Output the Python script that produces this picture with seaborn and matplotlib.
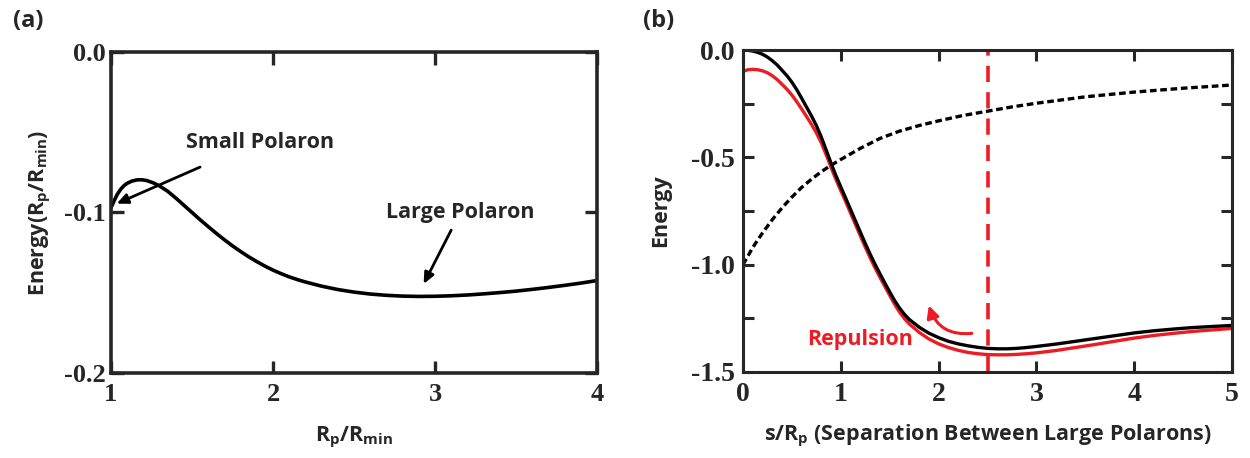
import matplotlib
matplotlib.use("Agg")
import matplotlib.pyplot as plt
import seaborn as sns
import pandas as pd
from matplotlib.ticker import MultipleLocator, FixedLocator

# ---------------- data ----------------
# Panel (a): Energy vs Rp/Rmin
a_x = [1.0, 1.02, 1.04, 1.06, 1.08, 1.10, 1.13, 1.16, 1.19, 1.22, 1.26, 1.30,
       1.35, 1.40, 1.45, 1.50, 1.55, 1.60, 1.65, 1.70, 1.75, 1.80, 1.85, 1.90,
       1.95, 2.00, 2.05, 2.10, 2.15, 2.20, 2.30, 2.40, 2.50, 2.60, 2.70, 2.80,
       2.90, 3.00, 3.10, 3.20, 3.30, 3.40, 3.50, 3.60, 3.70, 3.80, 3.90, 4.00]
a_y = [-0.0970, -0.0925, -0.0885, -0.0855, -0.0833, -0.0818, -0.0804, -0.0797,
       -0.0796, -0.0801, -0.0815, -0.0835, -0.0868, -0.0910, -0.0955, -0.1000,
       -0.1045, -0.1088, -0.1130, -0.1170, -0.1208, -0.1243, -0.1276, -0.1306,
       -0.1334, -0.1359, -0.1381, -0.1401, -0.1418, -0.1433, -0.1459, -0.1480,
       -0.1496, -0.1508, -0.1516, -0.1521, -0.1523, -0.1522, -0.1519, -0.1514,
       -0.1507, -0.1499, -0.1490, -0.1479, -0.1467, -0.1454, -0.1440, -0.1424]

# Panel (b): energy vs separation (solid black and red curves)
b_x = [0.0, 0.05, 0.1, 0.15, 0.2, 0.25, 0.3, 0.35, 0.4, 0.45, 0.5, 0.55, 0.6,
       0.65, 0.7, 0.75, 0.8, 0.85, 0.9, 0.95, 1.0, 1.05, 1.1, 1.15, 1.2, 1.25,
       1.3, 1.35, 1.4, 1.45, 1.5, 1.55, 1.6, 1.65, 1.7, 1.8, 1.9, 2.0, 2.1, 2.2,
       2.3, 2.4, 2.5, 2.6, 2.7, 2.8, 2.9, 3.0, 3.2, 3.4, 3.6, 3.8, 4.0, 4.2,
       4.4, 4.6, 4.8, 5.0]
b_black = [0.0, -0.001, -0.005, -0.011, -0.020, -0.033, -0.050, -0.070, -0.095,
           -0.120, -0.150, -0.185, -0.225, -0.266, -0.307, -0.352, -0.405,
           -0.465, -0.527, -0.585, -0.638, -0.690, -0.743, -0.796, -0.849,
           -0.901, -0.951, -0.998, -1.042, -1.085, -1.127, -1.167, -1.202,
           -1.231, -1.255, -1.291, -1.319, -1.340, -1.357, -1.369, -1.378,
           -1.385, -1.390, -1.392, -1.392, -1.390, -1.386, -1.381, -1.370,
           -1.357, -1.344, -1.331, -1.318, -1.308, -1.300, -1.293, -1.288,
           -1.283]
b_red = [-0.100, -0.092, -0.090, -0.092, -0.097, -0.106, -0.120, -0.138,
         -0.160, -0.183, -0.210, -0.241, -0.275, -0.310, -0.346, -0.386,
         -0.432, -0.487, -0.546, -0.603, -0.655, -0.706, -0.760, -0.813,
         -0.866, -0.918, -0.968, -1.015, -1.059, -1.101, -1.143, -1.184,
         -1.221, -1.251, -1.276, -1.315, -1.346, -1.369, -1.386, -1.399,
         -1.409, -1.415, -1.419, -1.420, -1.420, -1.418, -1.415, -1.411,
         -1.400, -1.386, -1.372, -1.357, -1.342, -1.330, -1.320, -1.311,
         -1.304, -1.297]
# dotted curve
d_x = [0.0, 0.05, 0.1, 0.15, 0.2, 0.3, 0.4, 0.5, 0.6, 0.7, 0.8, 0.9, 1.0,
       1.2, 1.4, 1.6, 1.8, 2.0, 2.25, 2.5, 2.75, 3.0, 3.5, 4.0, 4.5, 5.0]
d_y = [-1.000, -0.960, -0.920, -0.885, -0.852, -0.790, -0.735, -0.685, -0.640,
       -0.602, -0.567, -0.537, -0.510, -0.458, -0.412, -0.378, -0.352, -0.330,
       -0.305, -0.285, -0.265, -0.248, -0.218, -0.196, -0.178, -0.163]
vline_x = 2.5

a_xticks = [1, 2, 3, 4]
a_yticks = [0.0, -0.1, -0.2]
b_xticks = [0, 1, 2, 3, 4, 5]
b_yticks = [0.0, -0.5, -1.0, -1.5]

RED = "#ED1C24"

# ---------------- style ----------------
sns.set_theme(style="ticks")
plt.rcParams["font.family"] = ["Open Sans", "DejaVu Sans"]
plt.rcParams["axes.unicode_minus"] = False
plt.rcParams["mathtext.fontset"] = "custom"
plt.rcParams["mathtext.rm"] = "Open Sans:bold"
plt.rcParams["mathtext.it"] = "Open Sans:bold"
plt.rcParams["mathtext.bf"] = "Open Sans:bold"
plt.rcParams["mathtext.default"] = "rm"

fig = plt.figure(figsize=(12.5, 4.58), dpi=100)
axa = fig.add_axes([0.0888, 0.1856, 0.3888, 0.7009])
axb = fig.add_axes([0.5944, 0.1878, 0.3912, 0.7030])

LABEL_FS = 15.5

# ---------------- panel (a) ----------------
dfa = pd.DataFrame({"x": a_x, "y": a_y})
sns.lineplot(data=dfa, x="x", y="y", ax=axa, color="black", lw=2.6, sort=True)
axa.set_xlim(1, 4)
axa.set_ylim(-0.2, 0.0)
axa.xaxis.set_major_locator(FixedLocator(a_xticks))
axa.yaxis.set_major_locator(FixedLocator(a_yticks))
axa.set_xticklabels([str(v) for v in a_xticks])
axa.set_yticklabels([f"{v:.1f}" for v in a_yticks])
for sp in axa.spines.values():
    sp.set_linewidth(2.6)
    sp.set_visible(True)
axa.tick_params(direction="in", length=9, width=2.4, top=True, right=True,
                pad=7)
axa.tick_params(axis="y", pad=4)
for lab in axa.get_xticklabels() + axa.get_yticklabels():
    lab.set_fontfamily("Liberation Serif")
    lab.set_fontweight("bold")
    lab.set_fontsize(19)
axa.set_xlabel(r"R$_\mathrm{p}$/R$_\mathrm{min}$", fontsize=LABEL_FS,
               fontweight="bold", labelpad=14)
axa.set_ylabel(r"Energy(R$_\mathrm{p}$/R$_\mathrm{min}$)", fontsize=LABEL_FS,
               fontweight="bold", labelpad=8)
arrow_k = dict(arrowstyle="-|>,head_length=0.55,head_width=0.25",
               color="black", lw=2, shrinkA=0, shrinkB=0)
axa.annotate("", xy=(1.035, -0.0945), xytext=(1.55, -0.0717),
             arrowprops=arrow_k)
axa.text(1.46, -0.0567, "Small Polaron", fontsize=LABEL_FS, fontweight="bold",
         va="center", ha="left")
axa.annotate("", xy=(2.93, -0.1445), xytext=(3.10, -0.111),
             arrowprops=arrow_k)
axa.text(2.70, -0.0997, "Large Polaron", fontsize=LABEL_FS, fontweight="bold",
         va="center", ha="left")

# ---------------- panel (b) ----------------
dfb = pd.DataFrame({"x": b_x, "black": b_black, "red": b_red})
dfd = pd.DataFrame({"x": d_x, "y": d_y})
sns.lineplot(data=dfd, x="x", y="y", ax=axb, color="black", lw=2.4,
             linestyle=(0, (2.0, 1.1)))
sns.lineplot(data=dfb, x="x", y="red", ax=axb, color=RED, lw=2.4)
sns.lineplot(data=dfb, x="x", y="black", ax=axb, color="black", lw=2.4)
axb.axvline(vline_x, color=RED, lw=2.6, linestyle=(0, (4.5, 2.8)))
axb.set_xlim(0, 5)
axb.set_ylim(-1.5, 0.0)
axb.xaxis.set_major_locator(FixedLocator(b_xticks))
axb.yaxis.set_major_locator(FixedLocator(b_yticks))
axb.yaxis.set_minor_locator(MultipleLocator(0.25))
axb.set_xticklabels([str(v) for v in b_xticks])
axb.set_yticklabels([f"{v:.1f}" for v in b_yticks])
for sp in axb.spines.values():
    sp.set_linewidth(2.2)
    sp.set_visible(True)
axb.tick_params(which="both", direction="in", length=8, width=2.2, top=True,
                right=True)
axb.tick_params(axis="x", pad=7)
axb.tick_params(axis="y", pad=6)
for lab in axb.get_xticklabels() + axb.get_yticklabels():
    lab.set_fontfamily("Liberation Serif")
    lab.set_fontweight("bold")
    lab.set_fontsize(20)
axb.set_xlabel(r"s/R$_\mathrm{p}$ (Separation Between Large Polarons)",
               fontsize=LABEL_FS, fontweight="bold", labelpad=12)
axb.set_ylabel("Energy", fontsize=LABEL_FS, fontweight="bold", labelpad=14)
axb.text(1.2, -1.35, "Repulsion", color=RED, fontsize=LABEL_FS,
         fontweight="bold", ha="center", va="center")
axb.annotate("", xy=(1.90, -1.19), xytext=(2.34, -1.32),
             arrowprops=dict(arrowstyle="-|>,head_length=0.6,head_width=0.3",
                             color=RED, lw=2.2, shrinkA=0, shrinkB=0,
                             connectionstyle="arc3,rad=-0.4"))

# panel labels
fig.text(0.010, 0.955, "(a)", fontsize=17, fontweight="bold", va="center")
fig.text(0.514, 0.955, "(b)", fontsize=17, fontweight="bold", va="center")

fig.savefig("out.png", dpi=100)
